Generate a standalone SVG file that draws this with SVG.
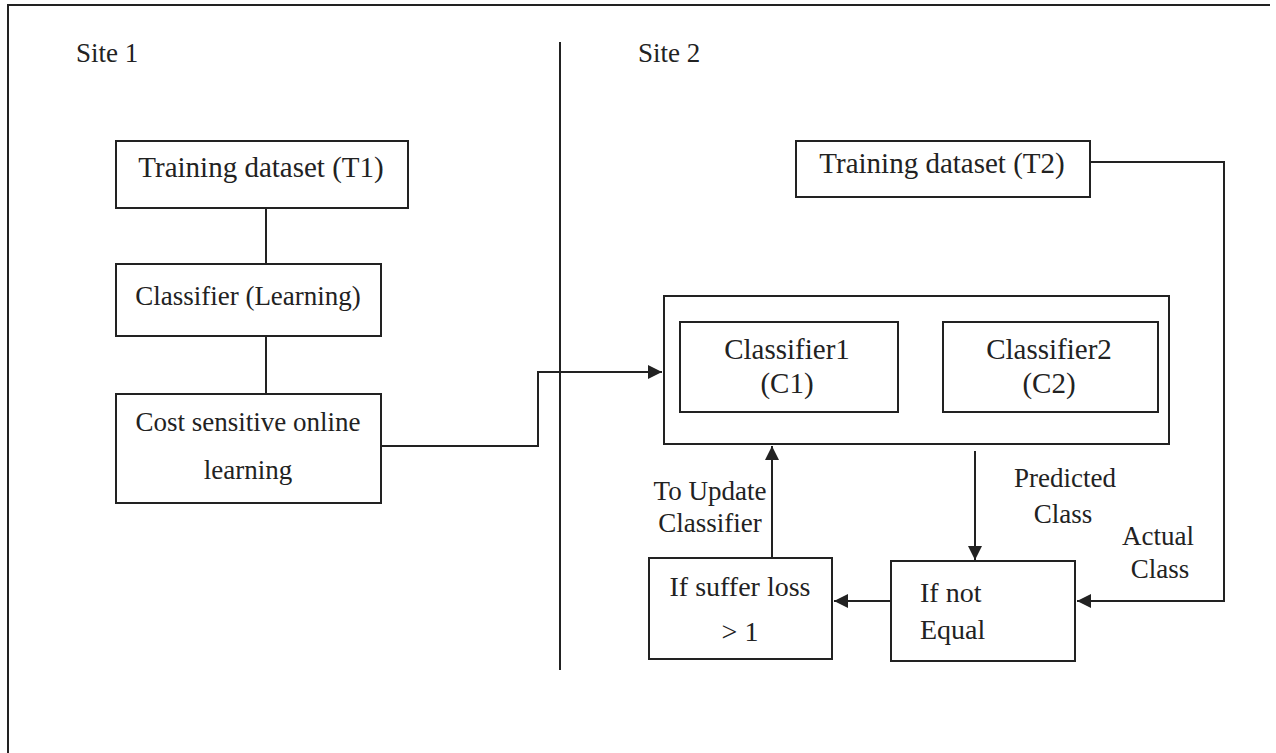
<svg xmlns="http://www.w3.org/2000/svg" width="1276" height="753" viewBox="0 0 1276 753">
<style>
.box{fill:#fff;stroke:#222;stroke-width:2}
.ln{fill:none;stroke:#222;stroke-width:2}
text{font-family:"Liberation Serif","Times New Roman",serif;font-size:27px;fill:#222}
.big{font-size:29px}
.mid{font-size:28px}
.c{text-anchor:middle}
</style>
<defs>
<marker id="ah" viewBox="0 0 10 10" refX="10" refY="5" markerWidth="14" markerHeight="14" markerUnits="userSpaceOnUse" orient="auto">
<path d="M0,0 L10,5 L0,10 z" fill="#222"/>
</marker>
</defs>
<rect width="1276" height="753" fill="#fff"/>
<g id="frame">
<path class="ln" d="M8,753 V5 H1270"/>
<line class="ln" x1="560" y1="42" x2="560" y2="670"/>
<text x="76" y="62">Site 1</text>
<text x="638" y="62">Site 2</text>
</g>
<g id="connectors">
<line class="ln" x1="266" y1="208" x2="266" y2="264"/>
<line class="ln" x1="266" y1="336" x2="266" y2="394"/>
<path class="ln" d="M381,446 H538 V372 H662" marker-end="url(#ah)"/>
<path class="ln" d="M772,557 V446" marker-end="url(#ah)"/>
<path class="ln" d="M975,451 V560" marker-end="url(#ah)"/>
<path class="ln" d="M891,601 H834" marker-end="url(#ah)"/>
<path class="ln" d="M1090,162 H1224 V601 H1077" marker-end="url(#ah)"/>
<text class="c" x="1065" y="487">Predicted</text>
<text class="c" x="1063" y="523">Class</text>
<text class="c" x="1158" y="545">Actual</text>
<text class="c" x="1160" y="578">Class</text>
<text class="c" x="710" y="500">To Update</text>
<text class="c" x="710" y="532">Classifier</text>
</g>
<g id="t1">
<rect class="box" x="116" y="141" width="292" height="67"/>
<text class="c big" x="261" y="177">Training dataset (T1)</text>
</g>
<g id="classifier-learning">
<rect class="box" x="116" y="264" width="265" height="72"/>
<text class="c" x="248" y="305">Classifier (Learning)</text>
</g>
<g id="cost-sensitive">
<rect class="box" x="116" y="394" width="265" height="109"/>
<text class="c" x="248" y="431">Cost sensitive online</text>
<text class="c" x="248" y="479">learning</text>
</g>
<g id="t2">
<rect class="box" x="796" y="141" width="294" height="56"/>
<text class="c big" x="942" y="173">Training dataset (T2)</text>
</g>
<g id="ensemble">
<rect class="box" x="664" y="296" width="505" height="148"/>
</g>
<g id="c1">
<rect class="box" x="680" y="322" width="218" height="90"/>
<text class="c big" x="787" y="359">Classifier1</text>
<text class="c big" x="787" y="393">(C1)</text>
</g>
<g id="c2">
<rect class="box" x="943" y="322" width="215" height="90"/>
<text class="c big" x="1049" y="359">Classifier2</text>
<text class="c big" x="1049" y="393">(C2)</text>
</g>
<g id="suffer-loss">
<rect class="box" x="649" y="558" width="183" height="101"/>
<text class="c mid" x="740" y="596">If suffer loss</text>
<text class="c mid" x="740" y="641">&gt; 1</text>
</g>
<g id="not-equal">
<rect class="box" x="891" y="561" width="184" height="100"/>
<text class="mid" x="920" y="602">If not</text>
<text class="mid" x="920" y="639">Equal</text>
</g>
</svg>
